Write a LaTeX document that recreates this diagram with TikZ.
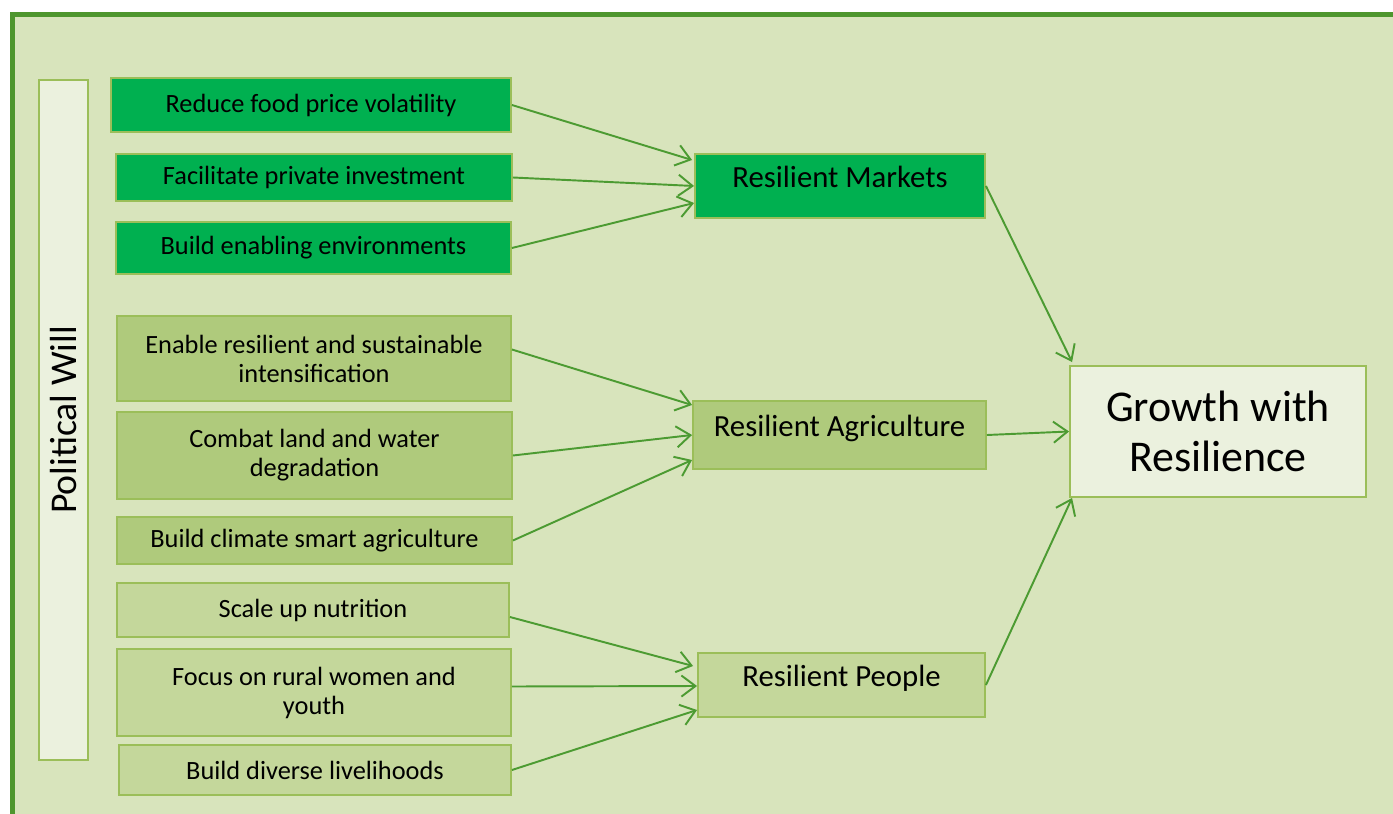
\documentclass[tikz,border=0pt]{standalone}
\usepackage{fontspec}
\setmainfont{Carlito}
\usepackage{tikz}
\usetikzlibrary{positioning,calc,arrows.meta}
\definecolor{FrameGreen}{RGB}{78,150,46}
\definecolor{PaleBack}{RGB}{216,228,188}
\definecolor{BoxEdge}{RGB}{155,190,89}
\definecolor{MarketGreen}{RGB}{0,176,80}
\definecolor{AgriGreen}{RGB}{175,202,124}
\definecolor{PeopleGreen}{RGB}{196,215,155}
\definecolor{LightBox}{RGB}{235,241,222}
\definecolor{ArrowGreen}{RGB}{76,155,50}
\tikzset{
    actionbox/.style={rectangle, draw=BoxEdge, line width=1.1pt, align=center, inner sep=2pt, font=\fontsize{15}{16.5}\selectfont},
    pillarbox/.style={rectangle, draw=BoxEdge, line width=1.1pt, align=center, inner sep=2pt, text depth=10pt, font=\fontsize{17.5}{20}\selectfont},
    link/.style={draw=ArrowGreen, line width=1.1pt, -{Straight Barb[length=8pt,width=12pt]}}
}

\begin{document}
\begin{tikzpicture}[x=0.02cm, y=-0.02cm]
        % --- KHUNG NỀN ---
        \clip (0,0) rectangle (1393,814);
        \useasboundingbox (0,0) rectangle (1393,814);
        \draw[draw=FrameGreen, line width=2.8pt, fill=PaleBack] (12.5,14.5) rectangle (1440,860);

        % --- CỘT BÊN TRÁI ---
        \node[rectangle, draw=BoxEdge, line width=1.1pt, fill=LightBox, rotate=90,
              minimum width=13.6cm, minimum height=0.98cm, font=\fontsize{21.5}{24}\selectfont]
              (will) at (63.5,420) {Political Will};

        % --- NHÓM THỊ TRƯỜNG ---
        \node[actionbox, fill=MarketGreen, minimum width=8cm, minimum height=1.08cm] (food) at (311,105) {Reduce food price volatility};
        \node[actionbox, fill=MarketGreen, minimum width=7.92cm, minimum height=0.94cm] (invest) at (314,177.5) {Facilitate private investment};
        \node[actionbox, fill=MarketGreen, minimum width=7.9cm, minimum height=1.04cm] (enviro) at (313.5,248) {Build enabling environments};
        \node[pillarbox, fill=MarketGreen, minimum width=5.8cm, minimum height=1.28cm] (markets) at (840,186) {Resilient Markets};

        % --- NHÓM NÔNG NGHIỆP ---
        \node[actionbox, fill=AgriGreen, minimum width=7.88cm, minimum height=1.7cm] (intens) at (314,358.5) {Enable resilient and sustainable\\intensification};
        \node[actionbox, fill=AgriGreen, minimum width=7.9cm, minimum height=1.74cm] (land) at (314.5,455.5) {Combat land and water\\degradation};
        \node[actionbox, fill=AgriGreen, minimum width=7.9cm, minimum height=0.94cm] (climate) at (314.5,540.5) {Build climate smart agriculture};
        \node[pillarbox, fill=AgriGreen, minimum width=5.86cm, minimum height=1.36cm] (agri) at (839.5,435) {Resilient Agriculture};

        % --- NHÓM CON NGƯỜI ---
        \node[actionbox, fill=PeopleGreen, minimum width=7.84cm, minimum height=1.08cm] (nutri) at (313,610) {Scale up nutrition};
        \node[actionbox, fill=PeopleGreen, minimum width=7.88cm, minimum height=1.74cm] (women) at (314,692.5) {Focus on rural women and\\youth};
        \node[actionbox, fill=PeopleGreen, minimum width=7.84cm, minimum height=1cm] (liveli) at (315,770) {Build diverse livelihoods};
        \node[pillarbox, fill=PeopleGreen, minimum width=5.74cm, minimum height=1.28cm] (people) at (841.5,685) {Resilient People};

        % --- KẾT QUẢ ---
        \node[rectangle, draw=BoxEdge, line width=1.1pt, fill=LightBox, align=center,
              minimum width=5.92cm, minimum height=2.62cm, font=\fontsize{25}{28}\selectfont]
              (growth) at (1218,431.5) {Growth with\\Resilience};

        % --- MŨI TÊN ---
        \draw[link] (food.east) -- ($(markets.west)+(-2,-26)$);
        \draw[link] (invest.east) -- (markets.west);
        \draw[link] (enviro.east) -- ($(markets.west)+(0,17)$);
        \draw[link] ($(intens.east)+(0,-9)$) -- ($(agri.west)+(0,-30)$);
        \draw[link] (land.east) -- (agri.west);
        \draw[link] (climate.east) -- ($(agri.west)+(0,25)$);
        \draw[link] ($(nutri.east)+(0,7)$) -- ($(people.west)+(-4,-19)$);
        \draw[link] ($(women.east)+(0,-6)$) -- ($(people.west)+(0,1)$);
        \draw[link] (liveli.east) -- ($(people.west)+(0,25)$);
        \draw[link] (markets.east) -- ($(growth.north west)+(3,-3)$);
        \draw[link] (agri.east) -- (growth.west);
        \draw[link] (people.east) -- ($(growth.south west)+(3,0)$);

    \end{tikzpicture}
\end{document}
